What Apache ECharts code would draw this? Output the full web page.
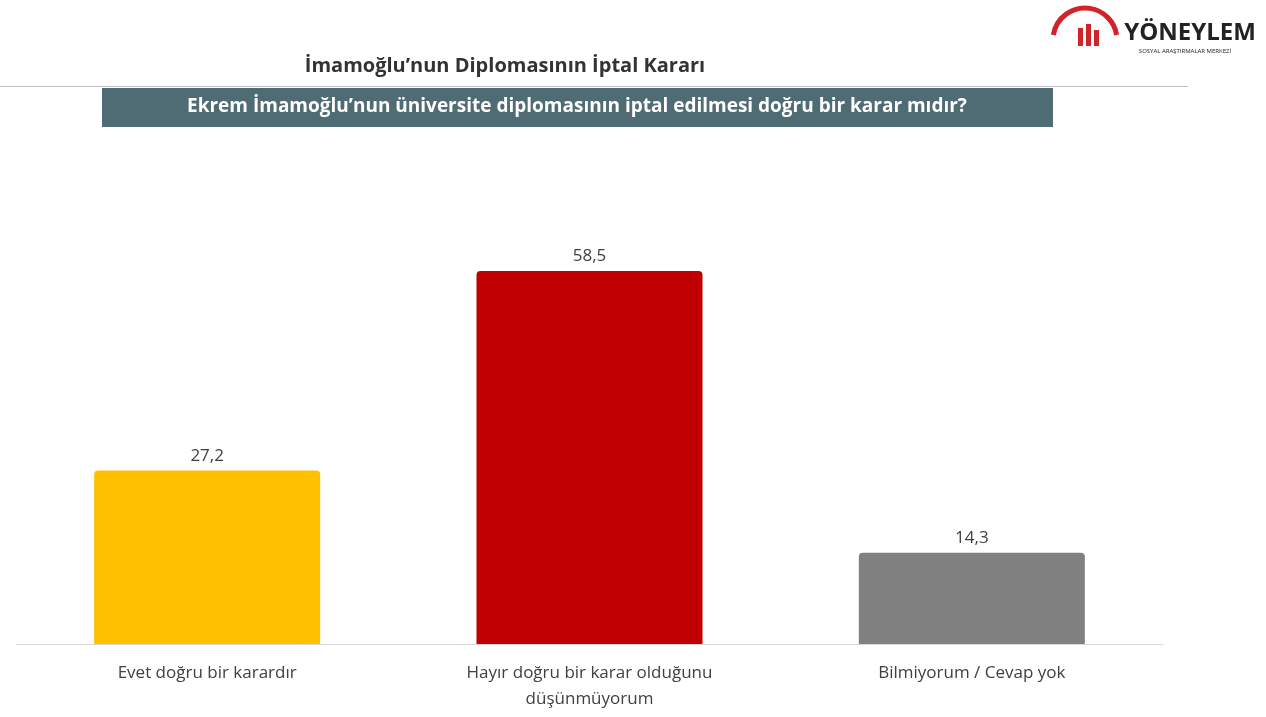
<!DOCTYPE html><html><head><meta charset="utf-8">
<script src="https://cdn.jsdelivr.net/npm/echarts@6/dist/echarts.min.js"></script>
<style>html,body{margin:0;background:#fff}#c{width:1266px;height:717px}</style></head><body><div id="c"></div>
<script>
const categories=["Evet doğru bir karardır","Hayır doğru bir karar olduğunu\ndüşünmüyorum","Bilmiyorum / Cevap yok"];
const values=[27.2,58.5,14.3];
const colors=["#FFC000","#C00000","#808080"];
const ch=echarts.init(document.getElementById('c'));
ch.setOption({
 animation:false,
 grid:{left:16,right:103,top:134,bottom:73},
 xAxis:{type:'category',data:categories,axisTick:{show:false},axisLine:{lineStyle:{color:'#d9d9d9'}},
  axisLabel:{fontFamily:'Open Sans',fontSize:17,color:'#404040',margin:16,lineHeight:26}},
 yAxis:{type:'value',min:0,max:80,show:false,splitLine:{show:false}},
 series:[{type:'bar',barWidth:226,data:values.map((v,i)=>({value:v,itemStyle:{color:colors[i],borderRadius:[4,4,0,0]}})),
  label:{show:true,position:'top',distance:6,fontFamily:'Open Sans',fontSize:17,color:'#404040',formatter:p=>String(p.value).replace('.',',')}}],
 graphic:[
  {type:'text',style:{text:"İmamoğlu’nun Diplomasının İptal Kararı",x:505,y:66,align:'center',verticalAlign:'middle',font:'bold 20px "Open Sans"',fill:'#333'}},
  {type:'rect',shape:{x:0,y:86,width:1188,height:1},style:{fill:'#bfbfbf'}},
  {type:'rect',shape:{x:102,y:88,width:951,height:39},style:{fill:'#4F6B73'}},
  {type:'text',style:{text:"Ekrem İmamoğlu’nun üniversite diplomasının iptal edilmesi doğru bir karar mıdır?",x:577,y:107,align:'center',verticalAlign:'middle',font:'bold 19px "Open Sans"',fill:'#fff'}},
  {type:'arc',shape:{cx:1085,cy:40,r:32,startAngle:Math.PI*1.05,endAngle:Math.PI*1.95},style:{stroke:'#d0232a',lineWidth:5,fill:null}},
  {type:'rect',shape:{x:1078,y:28,width:5,height:18},style:{fill:'#d0232a'}},
  {type:'rect',shape:{x:1086,y:24,width:5,height:22},style:{fill:'#d0232a'}},
  {type:'rect',shape:{x:1094,y:30,width:5,height:16},style:{fill:'#d0232a'}},
  {type:'text',style:{text:"YÖNEYLEM",x:1190,y:33,align:'center',verticalAlign:'middle',font:'bold 24px "Open Sans"',fill:'#222'}},
  {type:'text',style:{text:"SOSYAL ARAŞTIRMALAR MERKEZİ",x:1185,y:51,align:'center',verticalAlign:'middle',font:'6px "Open Sans"',fill:'#222'}}
 ]
});
</script></body></html>
